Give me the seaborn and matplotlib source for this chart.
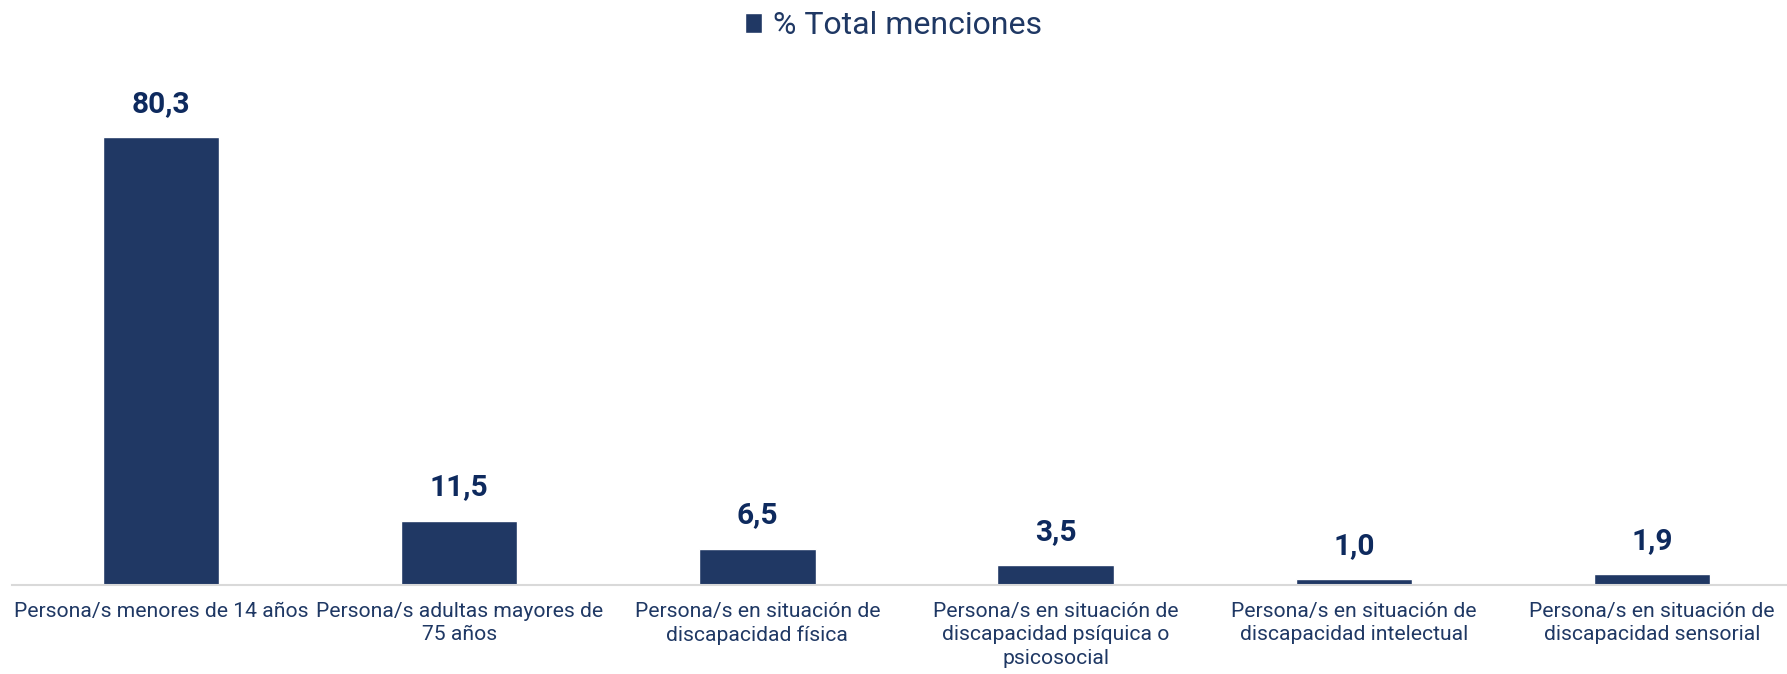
import numpy as np
import pandas as pd
import matplotlib
matplotlib.use("Agg")
import matplotlib.pyplot as plt
import seaborn as sns

categorias = [
    "Persona/s menores de 14 años",
    "Persona/s adultas mayores de\n75 años",
    "Persona/s en situación de\ndiscapacidad física",
    "Persona/s en situación de\ndiscapacidad psíquica o\npsicosocial",
    "Persona/s en situación de\ndiscapacidad intelectual",
    "Persona/s en situación de\ndiscapacidad sensorial",
]
valores = [80.3, 11.5, 6.5, 3.5, 1.0, 1.9]
serie = "% Total menciones"

sns.set_style("white")
plt.rcParams["font.family"] = ["Roboto", "DejaVu Sans"]

df = pd.DataFrame({"cat": categorias, "val": valores})

fig = plt.figure(figsize=(17.87, 6.74), dpi=100)
ax = fig.add_axes([12 / 1787, 89 / 674, 1789 / 1787, (585 - 83) / 674])

sns.barplot(data=df, x="cat", y="val", color="#203864", width=0.39,
            saturation=1, ax=ax, label=serie)

ax.set_ylim(0, 90)
ax.set_xlim(-0.5, len(categorias) - 0.5)
ax.set_xlabel("")
ax.set_ylabel("")
ax.set_yticks([])
for s in ["top", "right", "left"]:
    ax.spines[s].set_visible(False)
ax.spines["bottom"].set_color("#D9D9D9")
ax.spines["bottom"].set_linewidth(1.5)
ax.tick_params(axis="x", length=0, pad=12, labelsize=15.2, labelcolor="#1F3864")
for t in ax.get_xticklabels():
    t.set_linespacing(1.3)

ax.bar_label(ax.containers[0], labels=[f"{v:.1f}".replace(".", ",") for v in valores],
             padding=14, fontsize=21.5, fontweight="bold", color="#0E2A5E")

ax.legend(loc="upper center", bbox_to_anchor=((1787 / 2 - 12) / 1789, 1.2),
          frameon=False, fontsize=23, handlelength=0.55, handleheight=0.55,
          handletextpad=0.35, labelcolor="#1F3864")

fig.savefig("out.png", dpi=100)
